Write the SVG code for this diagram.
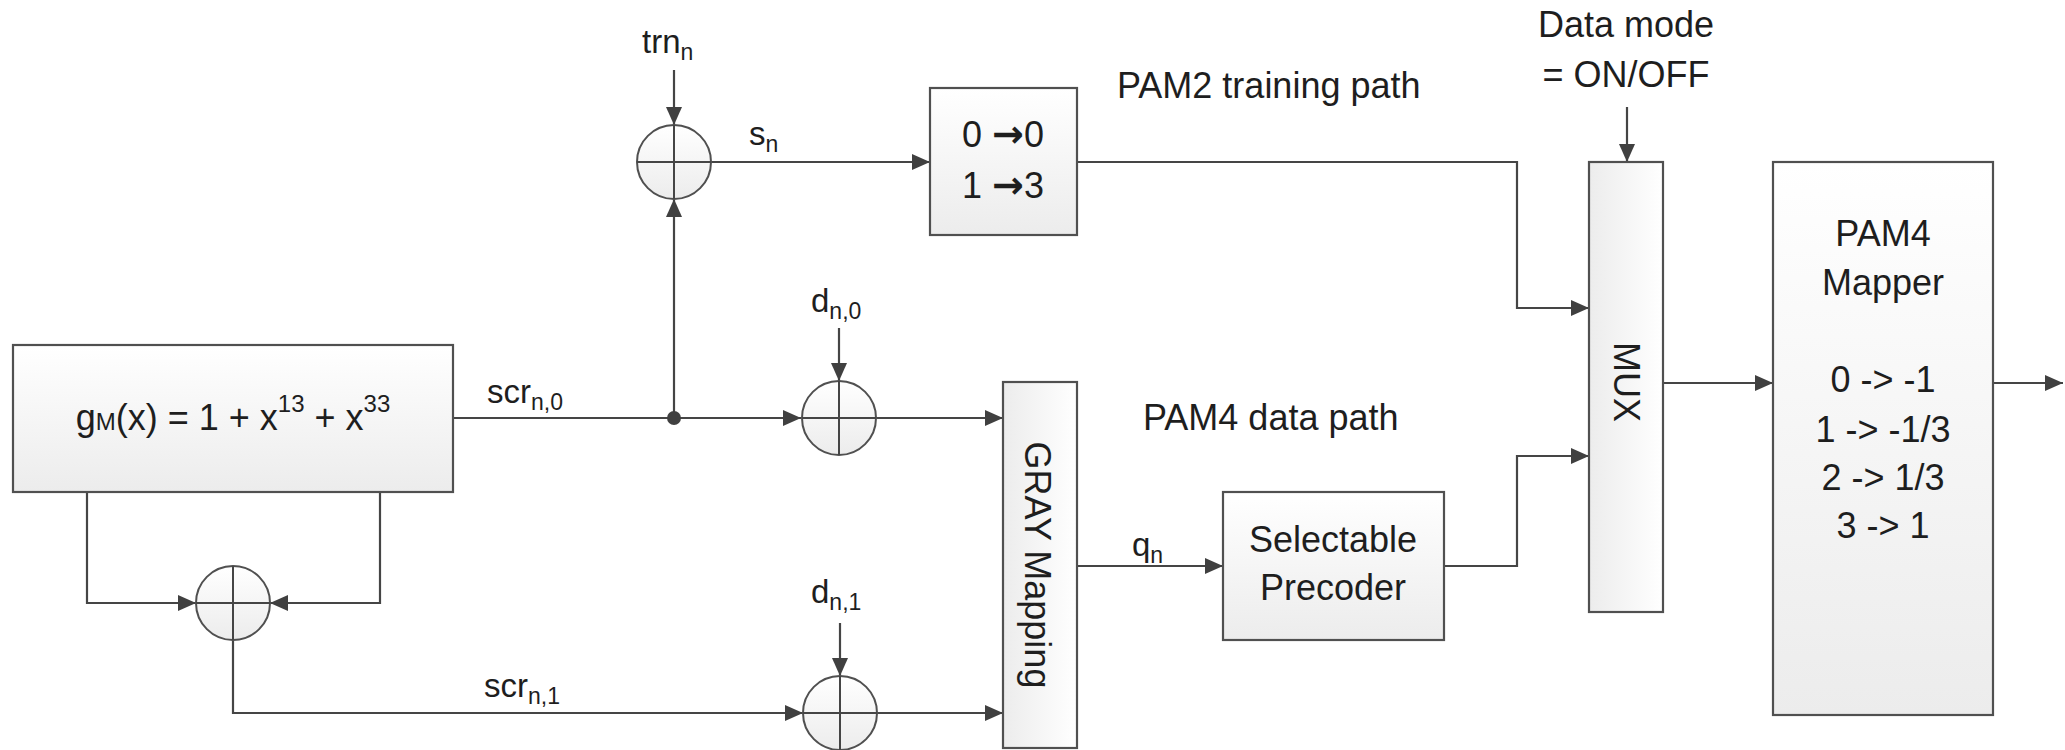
<svg xmlns="http://www.w3.org/2000/svg" width="2065" height="750" viewBox="0 0 2065 750">
<style>
text{font-family:"Liberation Sans",Arial,sans-serif;fill:#1e1e1e;font-size:36px}
.lbl{font-size:33px}
.sub{font-size:23px}
.ar{font-family:"DejaVu Sans",sans-serif;font-weight:bold;font-size:38px}
.box{stroke:#505050;stroke-width:2.2}
.hg{fill:url(#gv)}
.vg{fill:url(#gh)}
.wire{fill:none;stroke:#454545;stroke-width:2.2}
.arr{marker-end:url(#ah)}
.x{stroke:#505050;stroke-width:2;fill:url(#gv)}
.xl{stroke:#454545;stroke-width:2}
</style>
<defs>
<linearGradient id="gv" x1="0" y1="0" x2="0" y2="1"><stop offset="0" stop-color="#ffffff"/><stop offset="1" stop-color="#ececec"/></linearGradient>
<linearGradient id="gh" x1="0" y1="0" x2="1" y2="0"><stop offset="0" stop-color="#ececec"/><stop offset="1" stop-color="#ffffff"/></linearGradient>
<marker id="ah" viewBox="0 0 18 16" refX="18" refY="8" markerWidth="18" markerHeight="16" markerUnits="userSpaceOnUse" orient="auto"><path d="M0,0 L18,8 L0,16 z" fill="#404040"/></marker>
</defs>

<g id="connectors">
<path class="wire arr" d="M453,418 H801"/>
<path class="wire arr" d="M674,418 V199"/>
<path class="wire arr" d="M674,70 V125"/>
<path class="wire arr" d="M711,162 H930"/>
<path class="wire arr" d="M1077,162 H1517 V308 H1589"/>
<path class="wire arr" d="M839,328 V381"/>
<path class="wire arr" d="M876,418 H1003"/>
<path class="wire arr" d="M87,492 V603 H196"/>
<path class="wire arr" d="M380,492 V603 H270"/>
<path class="wire arr" d="M233,640 V713 H803"/>
<path class="wire arr" d="M840,623 V676"/>
<path class="wire arr" d="M877,713 H1003"/>
<path class="wire arr" d="M1077,566 H1223"/>
<path class="wire arr" d="M1444,566 H1517 V456 H1589"/>
<path class="wire arr" d="M1627,107 V162"/>
<path class="wire arr" d="M1663,383 H1773"/>
<path class="wire arr" d="M1993,383 H2063"/>
<circle cx="674" cy="418" r="7" fill="#404040"/>
</g>

<g id="lfsr">
<rect class="box hg" x="13" y="345" width="440" height="147"/>
<text x="233" y="430" text-anchor="middle">g<tspan font-size="24">M</tspan>(x) = 1 + x<tspan font-size="24" dy="-18">13</tspan><tspan dy="18"> + x</tspan><tspan font-size="24" dy="-18">33</tspan></text>
</g>

<g id="xor-fb">
<circle class="x" cx="233" cy="603" r="37"/>
<path class="xl" d="M196,603 H270 M233,566 V640"/>
</g>

<g id="xor-trn">
<circle class="x" cx="674" cy="162" r="37"/>
<path class="xl" d="M637,162 H711 M674,125 V199"/>
</g>

<g id="xor-d0">
<circle class="x" cx="839" cy="418" r="37"/>
<path class="xl" d="M802,418 H876 M839,381 V455"/>
</g>

<g id="xor-d1">
<circle class="x" cx="840" cy="713" r="37"/>
<path class="xl" d="M803,713 H877 M840,676 V750"/>
</g>

<g id="pam2map">
<rect class="box hg" x="930" y="88" width="147" height="147"/>
<text x="1003" y="147" text-anchor="middle">0 <tspan class="ar">→</tspan>0</text>
<text x="1003" y="198" text-anchor="middle">1 <tspan class="ar">→</tspan>3</text>
</g>

<g id="gray">
<rect class="box vg" x="1003" y="382" width="74" height="366"/>
<text transform="translate(1025,565) rotate(90)" text-anchor="middle">GRAY Mapping</text>
</g>

<g id="precoder">
<rect class="box hg" x="1223" y="492" width="221" height="148"/>
<text x="1333" y="552" text-anchor="middle">Selectable</text>
<text x="1333" y="600" text-anchor="middle">Precoder</text>
</g>

<g id="mux">
<rect class="box vg" x="1589" y="162" width="74" height="450"/>
<text transform="translate(1614,382) rotate(90)" text-anchor="middle">MUX</text>
</g>

<g id="mapper">
<rect class="box hg" x="1773" y="162" width="220" height="553"/>
<text x="1883" y="246" text-anchor="middle">PAM4</text>
<text x="1883" y="295" text-anchor="middle">Mapper</text>
<text x="1883" y="392" text-anchor="middle">0 -&gt; -1</text>
<text x="1883" y="442" text-anchor="middle">1 -&gt; -1/3</text>
<text x="1883" y="490" text-anchor="middle">2 -&gt; 1/3</text>
<text x="1883" y="538" text-anchor="middle">3 -&gt; 1</text>
</g>

<g id="labels">
<text class="lbl" x="642" y="53">trn<tspan class="sub" dy="7">n</tspan></text>
<text class="lbl" x="749" y="145">s<tspan class="sub" dy="7">n</tspan></text>
<text class="lbl" x="487" y="403">scr<tspan class="sub" dy="7">n,0</tspan></text>
<text class="lbl" x="811" y="312">d<tspan class="sub" dy="7">n,0</tspan></text>
<text class="lbl" x="811" y="603">d<tspan class="sub" dy="7">n,1</tspan></text>
<text class="lbl" x="484" y="697">scr<tspan class="sub" dy="7">n,1</tspan></text>
<text class="lbl" x="1132" y="556">q<tspan class="sub" dy="7">n</tspan></text>
<text x="1117" y="98">PAM2 training path</text>
<text x="1143" y="430">PAM4 data path</text>
<text x="1626" y="37" text-anchor="middle">Data mode</text>
<text x="1626" y="87" text-anchor="middle">= ON/OFF</text>
</g>
</svg>
